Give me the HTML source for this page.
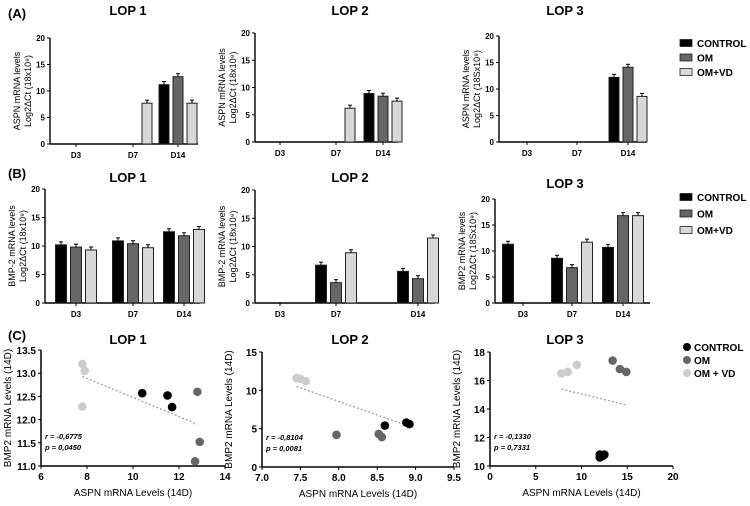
<!DOCTYPE html>
<html><head><meta charset="utf-8"><style>
body{margin:0;background:#fff;font-family:"Liberation Sans",Arial,sans-serif}
svg text{font-family:"Liberation Sans",Arial,sans-serif}
</style></head><body>
<svg id="fig" width="750" height="501" viewBox="0 0 750 501" xmlns="http://www.w3.org/2000/svg">
<text x="8" y="18" font-size="13" font-weight="bold">(A)</text>
<text x="8" y="178" font-size="13" font-weight="bold">(B)</text>
<text x="8" y="340" font-size="13" font-weight="bold">(C)</text>
</svg>
<script>
const days=["D3","D7","D14"];
const groups=["CONTROL","OM","OM+VD"];
const colors=["#000","#666","#d8d8d8"];
// Row A values (null = no bar)
const aLop1=[[null,null,null],[null,null,7.7],[11.2,12.7,7.7]];
const aLop2=[[null,null,null],[null,null,6.2],[8.9,8.4,7.5]];
const aLop3=[[null,null,null],[null,null,null],[12.2,14.1,8.6]];
// Row B values
const bLop1=[[10.2,9.8,9.3],[10.9,10.4,9.7],[12.5,11.8,12.9]];
const bLop2=[[null,null,null],[6.7,3.6,8.9],[5.6,4.3,11.5]];
const bLop3=[[11.3,null,null],[8.6,6.8,11.7],[10.7,16.8,16.8]];
const yTicksBar=[0,5,10,15,20];
// Scatter data
const c1x=[10.4,11.5,11.7], c1y=[12.57,12.52,12.27];
const o1x=[12.8,12.9,12.7], o1y=[12.6,11.52,11.1];
const v1x=[7.8,7.9,7.8], v1y=[13.2,13.05,12.28];
const t1=[[7.8,12.93],[12.8,11.9]];
const c2x=[8.6,8.88,8.92], c2y=[5.4,5.8,5.6];
const o2x=[7.97,8.52,8.56], o2y=[4.2,4.3,3.9];
const v2x=[7.45,7.5,7.57], v2y=[11.6,11.5,11.2];
const t2=[[7.45,10.5],[8.92,5.3]];
const c3x=[12.0,12.3,12.5,12.0], c3y=[10.8,10.7,10.8,10.6];
const o3x=[13.4,14.2,14.9], o3y=[17.4,16.8,16.6];
const v3x=[7.8,8.5,9.5], v3y=[16.5,16.6,17.1];
const t3=[[7.8,15.4],[14.8,14.3]];

const svg=document.getElementById('fig');
const NS="http://www.w3.org/2000/svg";
function el(tag,attrs,parent){const e=document.createElementNS(NS,tag);for(const k in attrs)e.setAttribute(k,attrs[k]);(parent||svg).appendChild(e);return e;}
function txt(x,y,s,size,extra,parent){const t=el('text',Object.assign({x:x,y:y,'font-size':size},extra||{}),parent);t.textContent=s;return t;}

function barPanel(name,p,data){
  const g=el('g',{});
  
  
  const ys=v=>p.y0-(v/20)*(p.y0-p.y20);
  el('line',{x1:p.ax,y1:p.y20,x2:p.ax,y2:p.y0,stroke:'#000','stroke-width':1.4},g);
  el('line',{x1:p.ax,y1:p.y0,x2:p.xe,y2:p.y0,stroke:'#000','stroke-width':1.4},g);
  yTicksBar.forEach(v=>{el('line',{x1:p.ax-3,y1:ys(v),x2:p.ax,y2:ys(v),stroke:'#000'},g);
    txt(p.ax-5,ys(v)+3,String(v),8,{'text-anchor':'end','font-weight':'bold'},g);});
  days.forEach((d,i)=>{
    el('line',{x1:p.dx[i],y1:p.y0,x2:p.dx[i],y2:p.y0+3,stroke:'#000'},g);
    txt(p.dx[i],p.y0+14,d,8,{'text-anchor':'middle','font-weight':'bold'},g);
    data[i].forEach((v,j)=>{
      if(v===null)return;
      const cx=p.dx[i]+(j-1)*p.sp;
      const r=el('rect',{x:cx-p.bw/2,y:ys(v),width:p.bw,height:p.y0-ys(v),fill:colors[j],stroke:'#222','stroke-width':1},g);
      
      
      el('line',{x1:cx,y1:ys(v),x2:cx,y2:ys(v)-3,stroke:'#000'},g);
      el('line',{x1:cx-2,y1:ys(v)-3,x2:cx+2,y2:ys(v)-3,stroke:'#000'},g);
    });
  });
  txt(p.tx,p.ty,p.title,13,{'text-anchor':'middle','font-weight':'bold'},g);
  const yl=el('g',{transform:`translate(${p.ax-24},${(p.y0+p.y20)/2}) rotate(-90)`},g);
  txt(0,-6,p.yl1,9,{'text-anchor':'middle'},yl);
  txt(0,5,p.yl2,9,{'text-anchor':'middle'},yl);
}
barPanel('aspn-lop1-chart',{ax:50,y0:144,y20:38,xe:198,dx:[76,133,178],sp:14,bw:10,tx:128,ty:15,title:'LOP 1',yl1:'ASPN mRNA levels',yl2:'Log2ΔCt (18x10⁹)'},aLop1);
barPanel('aspn-lop2-chart',{ax:255,y0:142,y20:33,xe:398,dx:[280,336,383],sp:14,bw:10,tx:350,ty:15,title:'LOP 2',yl1:'ASPN mRNA levels',yl2:'Log2ΔCt (18x10⁹)'},aLop2);
barPanel('aspn-lop3-chart',{ax:499,y0:142,y20:36,xe:647,dx:[527,577,628],sp:14,bw:10,tx:565,ty:15,title:'LOP 3',yl1:'ASPN mRNA levels',yl2:'Log2ΔCt (18Sx10⁹)'},aLop3);
barPanel('bmp2-lop1-chart',{ax:45,y0:303,y20:189,xe:200,dx:[76,133,184],sp:15,bw:11,tx:128,ty:182,title:'LOP 1',yl1:'BMP-2 mRNA levels',yl2:'Log2ΔCt (18x10⁹)'},bLop1);
barPanel('bmp2-lop2-chart',{ax:255,y0:303,y20:190,xe:435,dx:[280,336,418],sp:15,bw:11,tx:350,ty:182,title:'LOP 2',yl1:'BMP-2 mRNA levels',yl2:'Log2ΔCt (18x10⁹)'},bLop2);
barPanel('bmp2-lop3-chart',{ax:495,y0:303,y20:199,xe:650,dx:[523,572,623],sp:15,bw:11,tx:565,ty:188,title:'LOP 3',yl1:'BMP2 mRNA levels',yl2:'Log2ΔCt (18Sx10⁹)'},bLop3);

function legend(x,y0,dy,name,circle,labels){
  const g=el('g',{});
  
  
  labels.forEach((l,i)=>{
    const y=y0+i*dy;
    if(circle)el('circle',{cx:x+4,cy:y,r:4,fill:colors[i]==='#d8d8d8'?'#ccc':colors[i]},g);
    else el('rect',{x:x,y:y-3.5,width:12,height:7,fill:colors[i],stroke:'#222','stroke-width':0.8},g);
    const t=txt(x+(circle?11:17),y+4,l,10,{'font-weight':'bold'},g);
    
    
  });
}
legend(680,43,14.5,'legend-a',false,groups);
legend(680,197,16.5,'legend-b',false,groups);
legend(683,347,13,'legend-c',true,['CONTROL','OM','OM + VD']);

function scatter(name,p){
  const g=el('g',{});
  
  
  const xs=v=>p.ax+(v-p.xmin)/(p.xmax-p.xmin)*(p.xe-p.ax);
  const ys=v=>p.y0-(v-p.ymin)/(p.ymax-p.ymin)*(p.y0-p.ytop);
  el('line',{x1:p.ax,y1:p.ytop,x2:p.ax,y2:p.y0,stroke:'#000','stroke-width':1.5},g);
  el('line',{x1:p.ax,y1:p.y0,x2:p.xe,y2:p.y0,stroke:'#000','stroke-width':1.5},g);
  p.yt.forEach(v=>{el('line',{x1:p.ax-3,y1:ys(v),x2:p.ax,y2:ys(v),stroke:'#000'},g);
    txt(p.ax-5,ys(v)+4,p.yfmt(v),10,{'text-anchor':'end','font-weight':'bold'},g);});
  p.xt.forEach(v=>{el('line',{x1:xs(v),y1:p.y0,x2:xs(v),y2:p.y0+3,stroke:'#000'},g);
    txt(xs(v),p.y0+14,p.xfmt(v),10,{'text-anchor':'middle','font-weight':'bold'},g);});
  el('line',{x1:xs(p.t[0][0]),y1:ys(p.t[0][1]),x2:xs(p.t[1][0]),y2:ys(p.t[1][1]),stroke:'#999','stroke-width':1.2,'stroke-dasharray':'2,2'},g);
  [[p.vx,p.vy,'#ccc'],[p.cx,p.cy,'#000'],[p.ox,p.oy,'#666']].forEach(([X,Y,c])=>{
    X.forEach((xv,i)=>{const d=el('circle',{cx:xs(xv),cy:ys(Y[i]),r:4.3,fill:c},g);
      
      });
  });
  txt(p.tx,p.ty,p.title,13,{'text-anchor':'middle','font-weight':'bold'},g);
  txt(p.ax+4,p.y0-27,p.r,7.5,{'font-style':'italic','font-weight':'bold'},g);
  txt(p.ax+4,p.y0-16,p.pv,7.5,{'font-style':'italic','font-weight':'bold'},g);
  txt((p.ax+p.xe)/2,p.y0+30,'ASPN mRNA Levels (14D)',10,{'text-anchor':'middle'},g);
  const yl=el('g',{transform:`translate(${p.ax-30},${(p.y0+p.ytop)/2}) rotate(-90)`},g);
  txt(0,0,'BMP2 mRNA Levels (14D)',10,{'text-anchor':'middle'},yl);
}
scatter('scatter-lop1',{ax:41,xe:225,y0:466,ytop:350,xmin:6,xmax:14,ymin:11,ymax:13.5,xt:[6,8,10,12,14],yt:[11,11.5,12,12.5,13,13.5],xfmt:v=>String(v),yfmt:v=>v.toFixed(1),cx:c1x,cy:c1y,ox:o1x,oy:o1y,vx:v1x,vy:v1y,t:t1,tx:128,ty:344,title:'LOP 1',r:'r = -0,6775',pv:'p = 0,0450'});
scatter('scatter-lop2',{ax:262,xe:454,y0:467,ytop:352,xmin:7,xmax:9.5,ymin:0,ymax:15,xt:[7,7.5,8,8.5,9,9.5],yt:[0,5,10,15],xfmt:v=>v.toFixed(1),yfmt:v=>String(v),cx:c2x,cy:c2y,ox:o2x,oy:o2y,vx:v2x,vy:v2y,t:t2,tx:350,ty:344,title:'LOP 2',r:'r = -0,8104',pv:'p = 0,0081'});
scatter('scatter-lop3',{ax:490,xe:673,y0:466,ytop:352,xmin:0,xmax:20,ymin:10,ymax:18,xt:[0,5,10,15,20],yt:[10,12,14,16,18],xfmt:v=>String(v),yfmt:v=>String(v),cx:c3x,cy:c3y,ox:o3x,oy:o3y,vx:v3x,vy:v3y,t:t3,tx:565,ty:344,title:'LOP 3',r:'r = -0,1330',pv:'p = 0,7331'});
</script>
</body></html>
